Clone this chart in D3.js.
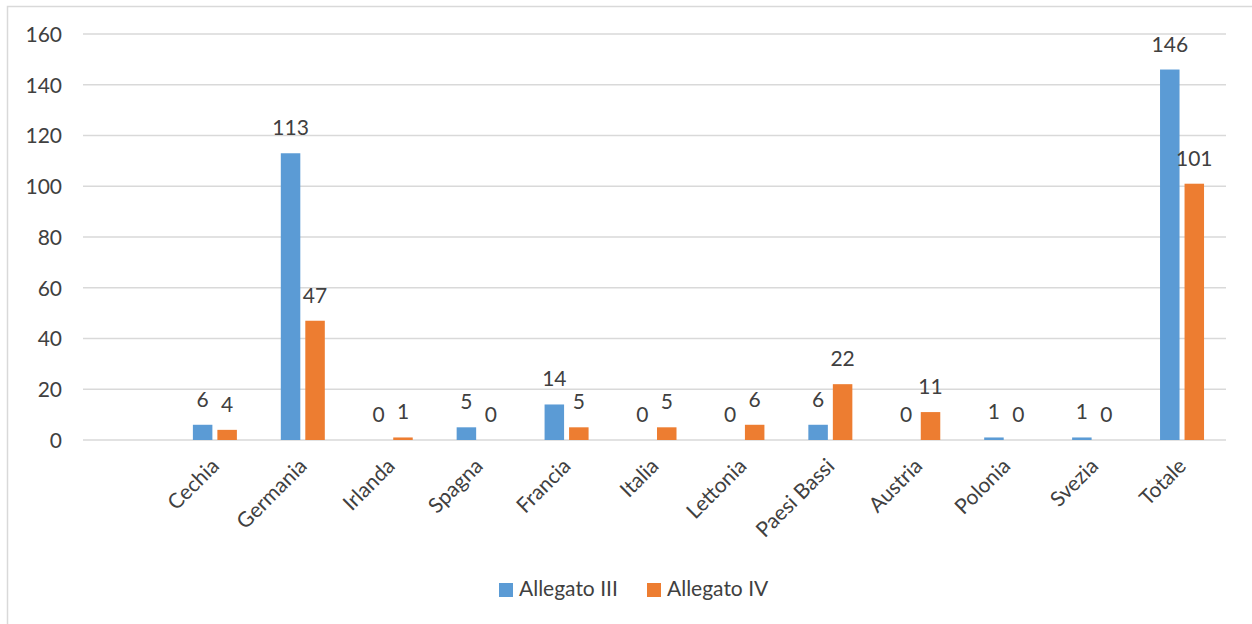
<!DOCTYPE html>
<html>
<head>
<meta charset="utf-8">
<script src="https://cdn.jsdelivr.net/npm/d3@7"></script>
<style>
  body { margin: 0; background: #fff; }
  svg text { font-family: Lato, "Open Sans", sans-serif; fill: #404040; }
</style>
</head>
<body>
<div id="chart"></div>
<script>
// categories (first slot is empty in the original chart)
var categories = ["", "Cechia", "Germania", "Irlanda", "Spagna", "Francia", "Italia", "Lettonia", "Paesi Bassi", "Austria", "Polonia", "Svezia", "Totale"];
var seriesNames = ["Allegato III", "Allegato IV"];
var allegatoIII = [null, 6, 113, 0, 5, 14, 0, 0, 6, 0, 1, 1, 146];
var allegatoIV  = [null, 4, 47, 1, 0, 5, 5, 6, 22, 11, 0, 0, 101];
var yTicks = [0, 20, 40, 60, 80, 100, 120, 140, 160];
var colors = ["#5B9BD5", "#ED7D31"];

var width = 1252, height = 624;
var plotLeft = 83, plotRight = 1226, plotTop = 34, plotBottom = 440;
var fontPx = "21px";

var svg = d3.select("#chart").append("svg")
  .attr("width", width)
  .attr("height", height);

// chart border
svg.append("rect")
  .attr("x", 7.5).attr("y", 6.5)
  .attr("width", 1300).attr("height", 700)
  .attr("fill", "none")
  .attr("stroke", "#d9d9d9")
  .attr("stroke-width", 1.5);

var x = d3.scaleBand().domain(categories).range([plotLeft, plotRight]).padding(0);
var x1 = d3.scaleBand().domain(seriesNames)
  .range([x.bandwidth() / 2 - 22, x.bandwidth() / 2 + 22])
  .paddingInner(0.204);
var y = d3.scaleLinear().domain([0, 160]).range([plotBottom, plotTop]);

// gridlines
svg.append("g").selectAll("line")
  .data(yTicks)
  .enter().append("line")
  .attr("x1", plotLeft).attr("x2", plotRight)
  .attr("y1", function(d) { return y(d); })
  .attr("y2", function(d) { return y(d); })
  .attr("stroke", "#d9d9d9")
  .attr("stroke-width", 1.5);

// y axis labels
var yAxis = d3.axisLeft(y).tickValues(yTicks).tickSize(0).tickPadding(0);
var yg = svg.append("g").attr("transform", "translate(62,0)").call(yAxis);
yg.select(".domain").remove();
yg.selectAll("text")
  .attr("fill", null)
  .style("font-size", fontPx)
  .attr("dy", "0.35em");
yg.attr("font-family", null).attr("font-size", null);

// bars
var data = [];
categories.forEach(function(c, i) {
  if (allegatoIII[i] != null) data.push({cat: c, s: seriesNames[0], v: allegatoIII[i], col: colors[0]});
  if (allegatoIV[i] != null) data.push({cat: c, s: seriesNames[1], v: allegatoIV[i], col: colors[1]});
});

svg.append("g").selectAll("rect")
  .data(data)
  .enter().append("rect")
  .attr("x", function(d) { return x(d.cat) + x1(d.s); })
  .attr("y", function(d) { return y(d.v); })
  .attr("width", x1.bandwidth())
  .attr("height", function(d) { return y(0) - y(d.v); })
  .attr("fill", function(d) { return d.col; });

// data labels
svg.append("g").selectAll("text")
  .data(data)
  .enter().append("text")
  .attr("x", function(d) { return x(d.cat) + x1(d.s) + x1.bandwidth() / 2; })
  .attr("y", function(d) { return y(d.v) - 18; })
  .attr("text-anchor", "middle")
  .style("font-size", fontPx)
  .text(function(d) { return d.v; });

// x axis labels
svg.append("g").selectAll("text")
  .data(categories.filter(function(c) { return c != ""; }))
  .enter().append("text")
  .attr("transform", function(d) {
    return "translate(" + (x(d) + x.bandwidth() / 2 - 5) + ",457) rotate(-45)";
  })
  .attr("text-anchor", "end")
  .attr("dy", "0.7em")
  .style("font-size", fontPx)
  .text(function(d) { return d; });

// legend
var legend = svg.append("g").selectAll("g")
  .data(seriesNames)
  .enter().append("g")
  .attr("transform", function(d, i) { return "translate(" + (499 + i * 148) + ",583)"; });
legend.append("rect")
  .attr("width", 14).attr("height", 14)
  .attr("fill", function(d, i) { return colors[i]; });
legend.append("text")
  .attr("x", 20).attr("y", 13)
  .style("font-size", fontPx)
  .text(function(d) { return d; });
</script>
</body>
</html>
